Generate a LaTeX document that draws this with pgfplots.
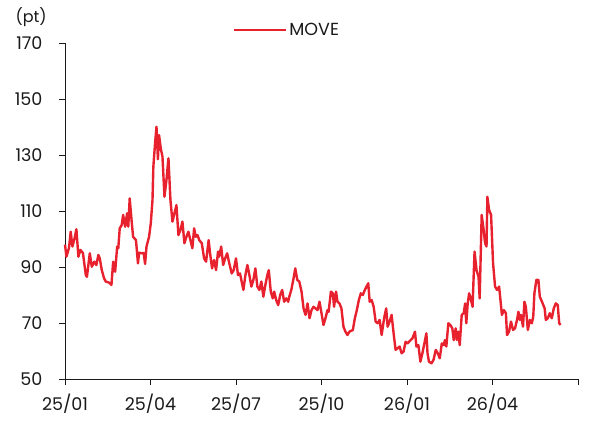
\documentclass[border=0pt]{standalone}
\usepackage{fontspec}
\setmainfont{Poppins}
\usepackage{pgfplots}
\pgfplotsset{compat=1.18}
\definecolor{moveRed}{HTML}{E8212F}
\definecolor{inkText}{HTML}{1A1A1A}

\begin{document}
\begin{tikzpicture}
\begin{axis}[
    scale only axis,
    width=513pt, height=336pt,
    xmin=0, xmax=18, ymin=50, ymax=170,
    clip=false,
    axis lines=left,
    axis line style={-, inkText, line width=0.9pt},
    xtick={0,3,...,18},
    xticklabels={25/01,25/04,25/07,25/10,26/01,26/04,},
    ytick={50,70,...,170},
    tick align=outside,
    major tick length=6pt,
    tick style={inkText, line width=0.9pt},
    tick label style={font=\fontsize{17.5}{20}\selectfont, color=inkText},
    /pgf/number format/assume math mode=true,
    yticklabel style={xshift=-13pt},
    xticklabel style={yshift=-5pt},
    legend style={at={(0.327,1.039)}, anchor=west, draw=none, fill=none,
        font=\fontsize{17.5}{20}\selectfont, text=inkText, inner sep=0pt},
    legend image code/.code={\draw[#1] (0pt,0pt) -- (52pt,0pt);},
]
\addplot[moveRed, line width=2.4pt, line join=round] coordinates {
(0.00,98.0) (0.05,93.7) (0.14,96.8) (0.20,102.6) (0.26,97.3) (0.34,100.4)
(0.40,103.5) (0.47,93.7) (0.54,96.1) (0.63,95.0) (0.73,87.1) (0.77,86.5)
(0.87,94.9) (0.94,90.1) (1.03,91.9) (1.10,90.7) (1.17,94.3) (1.22,93.1)
(1.29,88.9) (1.37,86.0) (1.43,84.8) (1.55,84.4) (1.63,83.6) (1.69,91.9)
(1.76,88.3) (1.83,97.3) (1.87,96.7) (1.92,103.8) (1.99,105.0) (2.04,108.6)
(2.11,104.4) (2.18,109.2) (2.22,104.4) (2.27,114.5)
(2.34,106.2) (2.39,100.8) (2.49,99.6) (2.56,91.3) (2.60,95.1) (2.70,94.9)
(2.76,95.0) (2.81,91.1) (2.86,97.3) (2.95,100.8) (3.01,105.6) (3.07,113.9)
(3.10,125.8) (3.16,134.2) (3.21,140.1) (3.26,128.5) (3.30,137.1) (3.36,132.4)
(3.42,129.4) (3.49,115.1) (3.56,121.1) (3.63,128.8) (3.70,113.9) (3.77,106.2)
(3.87,110.4) (3.91,112.1) (3.98,101.4) (4.05,103.2) (4.12,106.2) (4.19,98.5)
(4.26,100.8) (4.33,102.6) (4.40,99.6) (4.47,96.7) (4.53,103.8) (4.59,100.8)
(4.65,101.4) (4.71,99.6) (4.80,98.5) (4.88,93.1) (4.95,91.9) (5.04,99.6)
(5.09,94.9) (5.16,89.5) (5.23,92.5) (5.30,88.9) (5.37,95.5) (5.41,93.7)
(5.48,97.3) (5.55,90.7) (5.62,93.1) (5.69,94.9)
(5.76,91.5) (5.85,87.7) (5.92,88.9) (6.00,93.1) (6.07,87.1) (6.14,87.7)
(6.26,81.8) (6.33,87.1) (6.40,90.7) (6.47,87.1) (6.54,83.0) (6.61,85.4)
(6.68,89.5) (6.75,83.0) (6.82,81.8) (6.89,84.8) (6.96,79.4) (7.03,83.6)
(7.10,87.1) (7.15,88.9) (7.22,81.2) (7.29,78.8) (7.34,81.2) (7.41,78.2)
(7.48,76.4) (7.55,80.0) (7.62,81.8) (7.69,77.6) (7.76,78.8) (7.83,77.6)
(7.87,79.4) (7.94,81.8) (8.01,85.4) (8.08,89.5) (8.15,85.4) (8.22,84.8)
(8.30,81.2) (8.37,75.2) (8.44,72.9) (8.51,77.0) (8.58,71.7) (8.65,74.6)
(8.72,75.8) (8.79,75.2) (8.86,74.6)
(8.93,77.6) (9.00,73.5) (9.07,69.3) (9.14,71.7) (9.21,74.6) (9.25,74.0)
(9.33,81.2) (9.40,80.6) (9.44,75.8) (9.51,81.2) (9.56,77.6) (9.63,77.0)
(9.70,75.2) (9.77,68.7) (9.84,66.9) (9.91,65.7) (9.98,66.9) (10.10,67.5)
(10.17,71.7) (10.24,74.6) (10.31,78.2) (10.38,80.6) (10.45,80.0) (10.52,81.8)
(10.64,84.2) (10.69,77.6) (10.76,78.2) (10.83,75.8) (10.90,70.5) (10.97,69.9)
(11.04,71.1) (11.11,65.7) (11.18,70.5) (11.22,72.9) (11.27,75.2) (11.32,68.7)
(11.39,70.5) (11.46,72.9) (11.53,66.3) (11.60,60.4) (11.67,61.0) (11.74,61.6)
(11.81,59.2) (11.88,59.8) (11.95,63.3) (12.02,62.7)
(12.09,63.5) (12.19,64.5) (12.28,66.9) (12.33,61.6) (12.40,62.1) (12.47,56.2)
(12.54,59.2) (12.61,62.7) (12.68,66.3) (12.72,59.2) (12.77,56.2) (12.86,55.6)
(12.93,56.8) (13.01,60.4) (13.08,59.2) (13.15,57.4) (13.22,62.7) (13.29,62.1)
(13.33,63.9) (13.38,61.6) (13.45,69.9) (13.52,69.3) (13.59,68.1) (13.64,63.9)
(13.71,68.1) (13.75,63.9) (13.80,66.9) (13.85,62.1) (13.92,72.9) (13.99,73.5)
(14.04,77.0) (14.08,69.9) (14.13,77.0) (14.18,80.6) (14.22,79.4) (14.30,75.8)
(14.37,95.5) (14.44,88.9) (14.51,86.5) (14.55,78.8) (14.62,108.6) (14.69,103.2)
(14.74,98.5) (14.79,97.3) (14.82,115.1) (14.88,110.4) (14.95,108.6) (15.02,91.3)
(15.09,83.0) (15.16,81.8) (15.23,83.0)
(15.25,81.2) (15.33,72.9) (15.40,74.6) (15.47,73.5) (15.51,65.7) (15.58,66.9)
(15.65,70.5) (15.72,67.5) (15.79,68.1) (15.86,71.1) (15.91,74.0) (15.96,71.1)
(16.00,72.9) (16.07,68.7) (16.12,77.6) (16.17,75.8) (16.24,67.5) (16.31,71.1)
(16.38,69.9) (16.43,72.3) (16.47,80.6) (16.54,85.4) (16.61,85.4) (16.66,79.4)
(16.76,77.0) (16.83,75.2) (16.87,71.1) (16.94,71.7) (17.01,73.5) (17.08,71.7)
(17.15,75.2) (17.22,77.0) (17.29,76.4) (17.34,69.9) (17.39,69.3)
};
\addlegendentry{MOVE}
\node[anchor=west, font=\fontsize{16}{19}\selectfont, text=inkText]
    at (rel axis cs:0,1) [xshift=-53pt, yshift=26pt] {(pt)};
\coordinate (sw) at (rel axis cs:0,0);
\coordinate (ne) at (rel axis cs:1,1);
\end{axis}
\path ([xshift=-65pt,yshift=-42pt]sw) rectangle ([xshift=11pt,yshift=43pt]ne);
\end{tikzpicture}
\end{document}
